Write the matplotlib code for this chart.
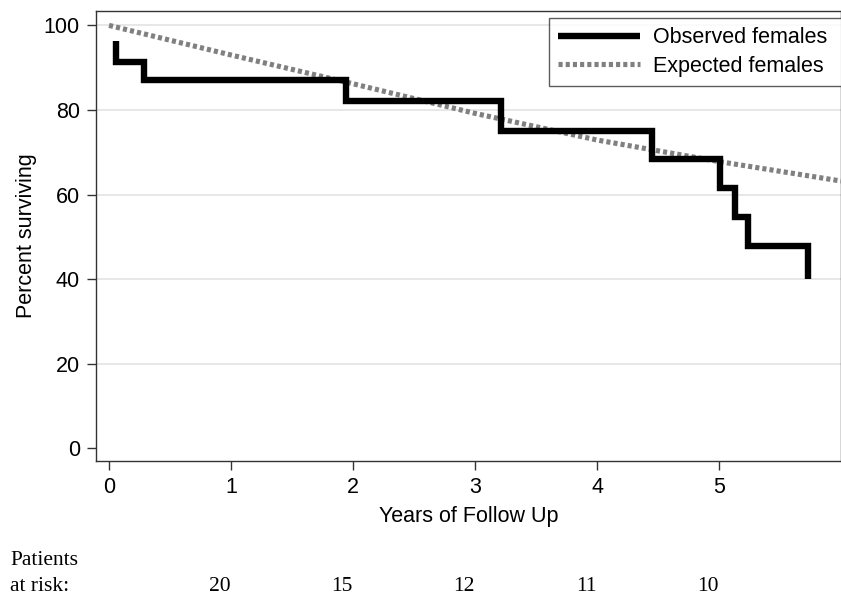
import matplotlib
matplotlib.use("Agg")
import matplotlib.pyplot as plt

# Kaplan-Meier observed survival (step points) and expected survival
obs_years = [0.06, 0.06, 0.29, 1.94, 3.21, 4.45, 5.01, 5.13, 5.24, 5.73]
obs_pct = [96.3, 91.4, 87.1, 82.1, 75.0, 68.4, 61.6, 54.7, 47.8, 40.0]

exp_years = [0, 1, 2, 3, 4, 5, 6]
exp_pct = [100, 93.0, 86.2, 79.2, 72.9, 67.8, 63.2]

risk_years = [1, 2, 3, 4, 5]
risk_n = [20, 15, 12, 11, 10]

sans = "Liberation Sans"
serif = "Liberation Serif"
fs = 15.5

fig = plt.figure(figsize=(8.41, 5.95), dpi=100)
ax = fig.add_axes([0.1141, 0.2252, 0.8859, 0.7563])

# observed: step line, drop at each event time
xs, ys = [obs_years[0]], [obs_pct[0]]
for i in range(1, len(obs_years)):
    xs += [obs_years[i], obs_years[i]]
    ys += [ys[-1], obs_pct[i]]
ax.plot(xs, ys, color="black", lw=4.6, solid_joinstyle="miter",
        solid_capstyle="butt", label="Observed females", zorder=3)

ax.plot(exp_years, exp_pct, color="#808080", lw=3.7,
        linestyle=(0, (0.8, 0.6)), label="Expected females", zorder=2)

ax.set_xlim(-0.107, 6.0)
ax.set_ylim(-3.0, 103.4)
ax.set_xticks(range(6))
ax.set_yticks(range(0, 101, 20))
for g in range(20, 101, 20):
    ax.axhline(g, color="#e3e3e3", lw=1.2, zorder=0)

for s in ax.spines.values():
    s.set_color("#333333")
    s.set_linewidth(1.0)
ax.tick_params(direction="out", length=6.5, width=1, color="#333333",
               labelsize=fs, pad=5)
for lab in ax.get_xticklabels() + ax.get_yticklabels():
    lab.set_family(sans)

ax.set_xlabel("Years of Follow Up", fontsize=fs, family=sans, labelpad=6)
ax.set_ylabel("Percent surviving", fontsize=fs, family=sans, labelpad=5)

# legend box runs off the right edge, as in the original
leg = ax.legend(loc="upper left", bbox_to_anchor=(0.608, 0.5, 0.45, 0.4844),
                mode="expand", prop={"family": sans, "size": fs},
                frameon=True, fancybox=False, edgecolor="#333333",
                handlelength=3.8, borderpad=0.42, labelspacing=0.36,
                handletextpad=0.6, borderaxespad=0.0)
leg.get_frame().set_linewidth(1.0)

# patients at risk table under the axis
fig.text(0.012, 0.058, "Patients", family=serif, fontsize=fs, va="center")
fig.text(0.012, 0.014, "at risk:", family=serif, fontsize=fs, va="center")
for yr, n in zip(risk_years, risk_n):
    ax.annotate(str(n), xy=(yr, 0), xycoords=("data", "figure fraction"),
                xytext=(0, 0.014 * 595), textcoords="offset pixels",
                ha="right", va="center", family=serif, fontsize=fs)

fig.savefig("out.png", dpi=100)
